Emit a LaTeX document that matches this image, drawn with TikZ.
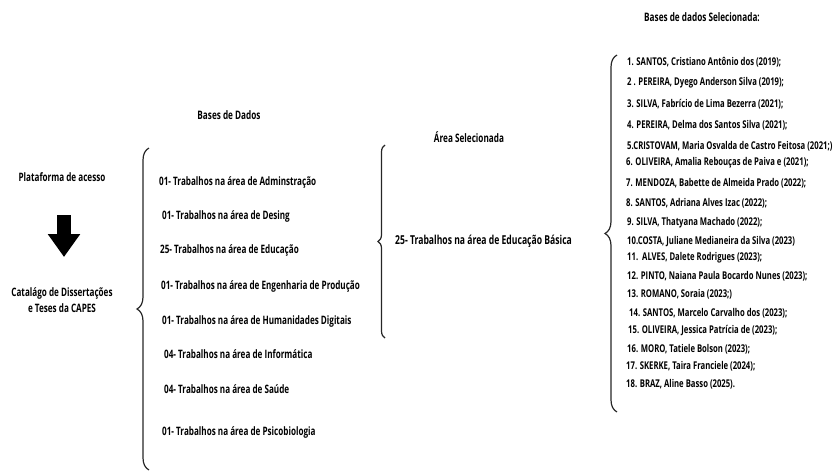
\documentclass[tikz,border=0pt]{standalone}
\usepackage{fontspec}
\setmainfont{Open Sans}[FakeStretch=0.7]
\newfontfamily\rlistfont{Open Sans}[FakeStretch=0.72]
\usetikzlibrary{decorations.pathreplacing,arrows.meta}
\tikzset{
  txt/.style={inner sep=0pt, font=\bfseries\fontsize{11.6}{13}\selectfont},
  item/.style={txt, anchor=west},
  bigitem/.style={inner sep=0pt, anchor=west, font=\bfseries\fontsize{12.3}{14}\selectfont},
  ritem/.style={inner sep=0pt, anchor=west, font=\rlistfont\bfseries\fontsize{10.7}{12}\selectfont},
  head/.style={inner sep=0pt, font=\bfseries\fontsize{11.7}{13}\selectfont},
  bigbrace/.style={decorate, decoration={brace, amplitude=#1pt}, line width=1.2pt, black!85},
  blockarrow/.style={line width=14pt, -{Triangle[length=23pt,width=31pt]}}
}
\begin{document}
\begin{tikzpicture}[x=1pt,y=-1pt]
\useasboundingbox (0,0) rectangle (835,472);
% headings
\node[head] (hbd) at (229,115) {Bases de Dados};
\node[head] (has) at (469,137) {Área Selecionada};
\node[head] (hsel) at (702,17) {Bases de dados Selecionada:};
% left column
\node[txt] (plat) at (62,177) {Plataforma de acesso};
\node[txt, align=center] (cat) at (62,300) {Catalágo de Dissertações\\[3pt]e Teses da CAPES};
\coordinate (arrtop) at (64,215);
\coordinate (arrtip) at (64,257);
\draw[blockarrow] (arrtop) -- (arrtip);
% brace 1
\coordinate (b1bot) at (149,470);
\coordinate (b1top) at (149,148);
\draw[bigbrace=12] (b1bot) -- (b1top);
\node[item] (a1) at (159,182) {01- Trabalhos na área de Adminstração};
\node[item] (a2) at (162,216) {01- Trabalhos na área de Desing};
\node[item] (a3) at (160,250) {25- Trabalhos na área de Educação};
\node[item] (a4) at (161,286) {01- Trabalhos na área de Engenharia de Produção};
\node[item] (a5) at (162,321) {01- Trabalhos na área de Humanidades Digitais};
\node[item] (a6) at (164,354) {04- Trabalhos na área de Informática};
\node[item] (a7) at (164,389) {04- Trabalhos na área de Saúde};
\node[item] (a8) at (162,432) {01- Trabalhos na área de Psicobiologia};
% brace 2
\coordinate (b2bot) at (385,338);
\coordinate (b2top) at (385,145);
\draw[bigbrace=7] (b2bot) -- (b2top);
\node[bigitem] (edb) at (395,241) {25- Trabalhos na área de Educação Básica};
% brace 3
\coordinate (b3bot) at (617,412);
\coordinate (b3top) at (617,55);
\draw[bigbrace=12] (b3bot) -- (b3top);
\node[ritem] (r1) at (627,62) {1. SANTOS, Cristiano Antônio dos (2019);};
\node[ritem] (r2) at (627,83) {2 . PEREIRA, Dyego Anderson Silva (2019);};
\node[ritem] (r3) at (627,104) {3. SILVA, Fabrício de Lima Bezerra (2021);};
\node[ritem] (r4) at (627,125) {4. PEREIRA, Delma dos Santos Silva (2021);};
\node[ritem] (r5) at (627,146) {5.CRISTOVAM, Maria Osvalda de Castro Feitosa (2021;)};
\node[ritem] (r6) at (626,163) {6. OLIVEIRA, Amalia Rebouças de Paiva e (2021);};
\node[ritem] (r7) at (626,183) {7. MENDOZA, Babette de Almeida Prado (2022);};
\node[ritem] (r8) at (626,203) {8. SANTOS, Adriana Alves Izac (2022);};
\node[ritem] (r9) at (627,223) {9. SILVA, Thatyana Machado (2022);};
\node[ritem] (r10) at (627,242) {10.COSTA, Juliane Medianeira da Silva (2023)};
\node[ritem] (r11) at (627,258) {11.\ \ ALVES, Dalete Rodrigues (2023);};
\node[ritem] (r12) at (627,276) {12. PINTO, Naiana Paula Bocardo Nunes (2023);};
\node[ritem] (r13) at (627,294) {13. ROMANO, Soraia (2023;)};
\node[ritem] (r14) at (629,313) {14. SANTOS, Marcelo Carvalho dos (2023);};
\node[ritem] (r15) at (628,331) {15. OLIVEIRA, Jessica Patrícia de (2023);};
\node[ritem] (r16) at (627,349) {16. MORO, Tatiele Bolson (2023);};
\node[ritem] (r17) at (626,366) {17. SKERKE, Taira Franciele (2024);};
\node[ritem] (r18) at (626,384) {18. BRAZ, Aline Basso (2025).};
\end{tikzpicture}
\end{document}
